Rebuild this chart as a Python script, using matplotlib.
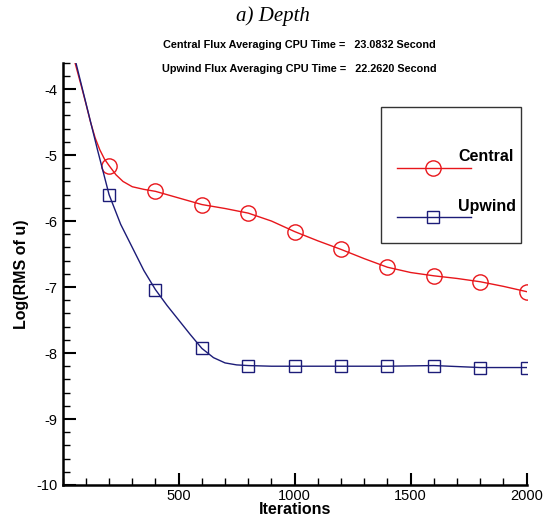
import matplotlib
matplotlib.use("Agg")
import matplotlib.pyplot as plt
from matplotlib.ticker import MultipleLocator
from matplotlib.patches import Rectangle

plt.rcParams["font.family"] = "Liberation Sans"
plt.rcParams["axes.unicode_minus"] = False

# marker values (every 200 iterations)
marker_iters = [200, 400, 600, 800, 1000, 1200, 1400, 1600, 1800, 2000]
central_marks = [-5.16, -5.55, -5.75, -5.88, -6.16, -6.43, -6.70, -6.83, -6.92, -7.07]
upwind_marks = [-5.60, -7.04, -7.93, -8.19, -8.20, -8.20, -8.20, -8.19, -8.22, -8.22]

# residual history
central_iters = [40, 60, 80, 100, 120, 140, 160, 180, 200, 230, 260, 300, 350, 400,
                 500, 600, 700, 800, 900, 1000, 1100, 1200, 1300, 1400, 1500, 1600,
                 1700, 1800, 1900, 2000]
central_res = [-3.43, -3.69, -3.95, -4.22, -4.50, -4.74, -4.92, -5.06, -5.16, -5.30,
               -5.40, -5.48, -5.52, -5.55, -5.65, -5.75, -5.81, -5.88, -6.00, -6.16,
               -6.30, -6.43, -6.57, -6.70, -6.78, -6.83, -6.87, -6.92, -6.99, -7.07]
upwind_iters = [40, 100, 150, 200, 250, 300, 350, 400, 450, 500, 550, 600, 650, 700,
                750, 800, 900, 1000, 1200, 1400, 1600, 1800, 2000]
upwind_res = [-3.36, -4.21, -4.92, -5.60, -6.05, -6.40, -6.75, -7.04, -7.28, -7.50,
              -7.72, -7.93, -8.07, -8.15, -8.18, -8.19, -8.20, -8.20, -8.20, -8.20,
              -8.19, -8.22, -8.22]

red = "#e8161b"
navy = "#1c1c78"

fig = plt.figure(figsize=(5.46, 5.21), dpi=100)
ax = fig.add_axes([0.1148, 0.0691, 0.8498, 0.8106])

ax.plot(central_iters, central_res, color=red, lw=1.0)
ax.plot(marker_iters, central_marks, ls="none", marker="o", ms=11,
        mfc="none", mec=red, mew=1.0)
ax.plot(upwind_iters, upwind_res, color=navy, lw=1.0)
ax.plot(marker_iters, upwind_marks, ls="none", marker="s", ms=8,
        mfc="none", mec=navy, mew=1.0)

ax.set_xlim(0, 2000)
ax.set_ylim(-10, -3.6)
ax.set_xticks([500, 1000, 1500, 2000])
ax.set_yticks([-10, -9, -8, -7, -6, -5, -4])
ax.xaxis.set_minor_locator(MultipleLocator(100))
ax.yaxis.set_minor_locator(MultipleLocator(0.2))
ax.tick_params(which="major", direction="in", length=9, width=1.5, labelsize=10.5)
ax.tick_params(which="minor", direction="in", length=5, width=1.0)
ax.tick_params(axis="x", pad=3)
ax.tick_params(axis="y", pad=4)
for s in ["top", "right"]:
    ax.spines[s].set_visible(False)
for s in ["left", "bottom"]:
    ax.spines[s].set_linewidth(1.8)

ax.set_xlabel("Iterations", fontsize=11.5, fontweight="bold", labelpad=-1)
ax.set_ylabel("Log(RMS of u)", fontsize=11.5, fontweight="bold", labelpad=5)

# legend box
ax.add_patch(Rectangle((0.685, 0.574), 0.302, 0.320, transform=ax.transAxes,
                       fill=False, ec="#333333", lw=1.0, clip_on=False))
ax.plot([0.720, 0.879], [0.751, 0.751], transform=ax.transAxes, color=red, lw=1.0)
ax.plot([0.799], [0.751], transform=ax.transAxes, marker="o", ms=11,
        mfc="none", mec=red, mew=1.0)
ax.text(0.853, 0.777, "Central", transform=ax.transAxes, fontsize=11.5,
        fontweight="bold", va="center", ha="left")
ax.plot([0.720, 0.879], [0.635, 0.635], transform=ax.transAxes, color=navy, lw=1.0)
ax.plot([0.799], [0.635], transform=ax.transAxes, marker="s", ms=8,
        mfc="none", mec=navy, mew=1.0)
ax.text(0.851, 0.659, "Upwind", transform=ax.transAxes, fontsize=11.5,
        fontweight="bold", va="center", ha="left")

fig.text(0.5, 1 - 16 / 521, "a) Depth", fontsize=15, style="italic",
         family="Liberation Serif", ha="center", va="center")
fig.text(0.549, 1 - 45 / 521, "Central Flux Averaging CPU Time =   23.0832 Second",
         fontsize=7.8, fontweight="bold", ha="center", va="center")
fig.text(0.549, 1 - 69 / 521, "Upwind Flux Averaging CPU Time =   22.2620 Second",
         fontsize=7.8, fontweight="bold", ha="center", va="center")

fig.savefig("out.png", dpi=100)
